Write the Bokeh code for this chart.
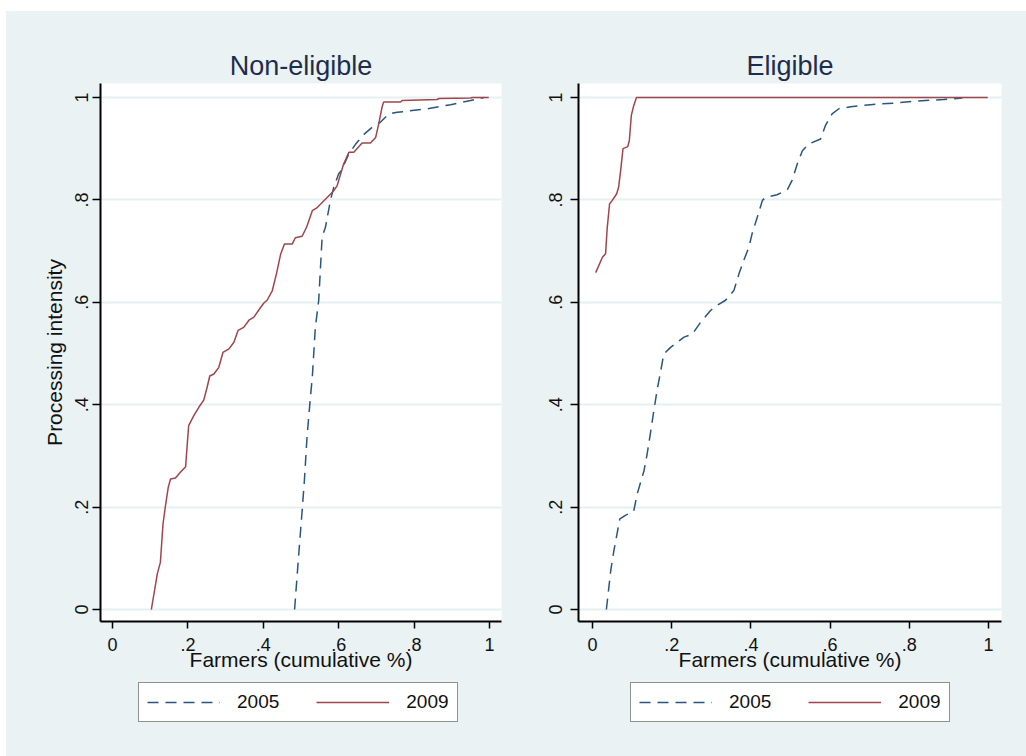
from bokeh.plotting import figure
from bokeh.layouts import row, column
from bokeh.models import FixedTicker, Legend, LegendItem, Range1d
from bokeh.embed import file_html
from bokeh.resources import INLINE

# ---------------- data ----------------
panel_titles = ["Non-eligible", "Eligible"]
series_names = ["2005", "2009"]
x_title = "Farmers (cumulative %)"
y_title = "Processing intensity"
ticks = [0, 0.2, 0.4, 0.6, 0.8, 1]
tick_labels = ["0", ".2", ".4", ".6", ".8", "1"]

# Non-eligible, 2005
ne05_x = [0.483, 0.494, 0.503, 0.509, 0.516, 0.525, 0.530, 0.538, 0.547, 0.556,
          0.565, 0.578, 0.587, 0.600, 0.607, 0.627, 0.645, 0.667, 0.689, 0.711,
          0.733, 0.755, 0.835, 0.897, 0.950, 0.985]
ne05_y = [0.0, 0.108, 0.193, 0.252, 0.337, 0.415, 0.454, 0.551, 0.604, 0.727,
          0.747, 0.799, 0.825, 0.851, 0.857, 0.890, 0.909, 0.928, 0.942, 0.952,
          0.968, 0.971, 0.978, 0.986, 0.994, 1.0]

# Non-eligible, 2009
ne09_x = [0.103, 0.119, 0.127, 0.134, 0.140, 0.148, 0.154, 0.167, 0.180, 0.194,
          0.196, 0.202, 0.216, 0.229, 0.242, 0.251, 0.258, 0.269, 0.282, 0.293,
          0.309, 0.322, 0.333, 0.348, 0.362, 0.375, 0.388, 0.401, 0.410, 0.424,
          0.435, 0.446, 0.456, 0.477, 0.485, 0.503, 0.515, 0.530, 0.543, 0.587,
          0.596, 0.613, 0.627, 0.640, 0.662, 0.684, 0.698, 0.706, 0.715, 0.719,
          0.764, 0.768, 0.861, 0.866, 0.950, 0.954, 0.998]
ne09_y = [0.0, 0.070, 0.092, 0.167, 0.200, 0.239, 0.255, 0.257, 0.268, 0.279,
          0.300, 0.359, 0.379, 0.395, 0.409, 0.434, 0.456, 0.460, 0.473, 0.502,
          0.509, 0.522, 0.545, 0.551, 0.565, 0.571, 0.585, 0.598, 0.604, 0.623,
          0.656, 0.694, 0.714, 0.714, 0.726, 0.729, 0.747, 0.779, 0.785, 0.818,
          0.828, 0.870, 0.893, 0.893, 0.911, 0.911, 0.922, 0.948, 0.981, 0.991,
          0.991, 0.994, 0.996, 0.998, 0.999, 1.0, 1.0]

# Eligible, 2005
el05_x = [0.035, 0.046, 0.054, 0.062, 0.069, 0.083, 0.104, 0.113, 0.130, 0.138,
          0.146, 0.155, 0.163, 0.172, 0.180, 0.197, 0.231, 0.252, 0.273, 0.298,
          0.315, 0.336, 0.357, 0.370, 0.382, 0.395, 0.403, 0.416, 0.429, 0.437,
          0.466, 0.492, 0.504, 0.517, 0.530, 0.546, 0.576, 0.588, 0.605, 0.622,
          0.652, 0.702, 0.761, 0.820, 0.887, 0.934]
el05_y = [0.0, 0.076, 0.115, 0.148, 0.177, 0.184, 0.192, 0.226, 0.271, 0.304,
          0.343, 0.389, 0.428, 0.465, 0.499, 0.512, 0.532, 0.538, 0.561, 0.584,
          0.594, 0.604, 0.623, 0.656, 0.682, 0.708, 0.734, 0.766, 0.799, 0.805,
          0.810, 0.820, 0.838, 0.870, 0.896, 0.909, 0.919, 0.945, 0.968, 0.978,
          0.982, 0.986, 0.989, 0.993, 0.996, 0.999]

# Eligible, 2009
el09_x = [0.008, 0.025, 0.033, 0.037, 0.043, 0.050, 0.061, 0.066, 0.071, 0.077,
          0.089, 0.093, 0.098, 0.104, 0.111, 0.998]
el09_y = [0.658, 0.688, 0.695, 0.744, 0.792, 0.799, 0.812, 0.825, 0.857, 0.900,
          0.904, 0.916, 0.965, 0.984, 1.0, 1.0]

# ---------------- styling ----------------
BG = "#EAF2F3"
GRID = "#E6EFF1"
C05 = "#28567F"
C09 = "#A0454D"
FONT = "Liberation Sans"
TEXT = "#111111"
TITLE_C = "#1E2D4E"
DASH = "11 7"

PLOT_H = 669
LEG_H = 76
Y_RANGE = (-0.0234, 1.0273)
NAN = float("nan")


def make_plot(title, x05, y05, x09, y09, width, b_left, b_right, x_range,
              show_ytitle, ylab_standoff):
    p = figure(width=width, height=PLOT_H, output_backend="svg", toolbar_location=None,
               x_range=Range1d(*x_range), y_range=Range1d(*Y_RANGE),
               min_border_left=b_left, min_border_right=b_right,
               min_border_top=72, min_border_bottom=59,
               background_fill_color="white", border_fill_color=BG,
               outline_line_color=None, title=title,
               styles={"background-color": BG})
    p.title.align = "center"
    p.title.text_font = FONT
    p.title.text_font_size = "27px"
    p.title.text_font_style = "normal"
    p.title.text_color = TITLE_C
    p.title.standoff = 6

    p.line(x05, y05, line_color=C05, line_width=1.5, line_dash=DASH)
    p.line(x09, y09, line_color=C09, line_width=1.5)

    p.xgrid.visible = False
    p.ygrid.ticker = FixedTicker(ticks=ticks)
    p.ygrid.grid_line_color = GRID
    p.ygrid.grid_line_width = 2

    overrides = {t: lab for t, lab in zip(ticks, tick_labels)}
    for ax in (p.xaxis[0], p.yaxis[0]):
        ax.ticker = FixedTicker(ticks=ticks)
        ax.major_label_overrides = overrides
        ax.minor_tick_line_color = None
        ax.major_tick_in = 0
        ax.major_tick_out = 7
        ax.major_tick_line_color = "black"
        ax.major_tick_line_width = 1.5
        ax.axis_line_color = "black"
        ax.axis_line_width = 2
        ax.major_label_text_font = FONT
        ax.major_label_text_font_size = "18px"
        ax.major_label_text_color = TEXT
        ax.axis_label_text_font = FONT
        ax.axis_label_text_font_size = "21px"
        ax.axis_label_text_font_style = "normal"
        ax.axis_label_text_color = TEXT

    p.xaxis[0].major_label_standoff = 9
    p.xaxis[0].axis_label = x_title
    p.xaxis[0].axis_label_standoff = -6

    p.yaxis[0].major_tick_out = 8
    p.yaxis[0].major_label_orientation = "parallel"
    p.yaxis[0].major_label_standoff = ylab_standoff
    if show_ytitle:
        p.yaxis[0].axis_label = y_title
        p.yaxis[0].axis_label_standoff = 7
    return p


def make_legend(width, legend_xy):
    # a strip under each panel holding only the legend box
    q = figure(width=width, height=LEG_H, output_backend="svg", toolbar_location=None,
               x_range=Range1d(0, 1), y_range=Range1d(0, 1),
               x_axis_type=None, y_axis_type=None,
               min_border=0, background_fill_color=BG, border_fill_color=BG,
               outline_line_color=None, styles={"background-color": BG})
    q.grid.visible = False
    # proxy renderers (no visible marks) that only supply the legend styles
    r05 = q.line([NAN], [NAN], line_color=C05, line_width=1.5, line_dash=DASH)
    r09 = q.line([NAN], [NAN], line_color=C09, line_width=1.5)
    legend = Legend(items=[LegendItem(label=series_names[0], renderers=[r05]),
                           LegendItem(label=series_names[1], renderers=[r09])],
                    orientation="horizontal", location=legend_xy,
                    glyph_width=73, glyph_height=20, label_standoff=17,
                    spacing=37, padding=8, margin=0,
                    label_text_font=FONT, label_text_font_size="19px",
                    label_text_color=TEXT,
                    border_line_color="#222222", border_line_width=1.5,
                    background_fill_color="white", background_fill_alpha=1.0)
    q.add_layout(legend, "center")
    return q


left = make_plot(panel_titles[0], ne05_x, ne05_y, ne09_x, ne09_y,
                 width=504, b_left=94, b_right=9,
                 x_range=(-0.0318, 1.0318), show_ytitle=True, ylab_standoff=4)
right = make_plot(panel_titles[1], el05_x, el05_y, el09_x, el09_y,
                  width=516, b_left=68, b_right=25,
                  x_range=(-0.0354, 1.0328), show_ytitle=False, ylab_standoff=8)
# legend strips' frames line up with the plot frames above them
left_leg = make_legend(504, (38, 34))
right_leg = make_legend(516, (52, 34))

layout = row(column(left, left_leg, styles={"background-color": BG}),
             column(right, right_leg, styles={"background-color": BG}),
             margin=(11, 0, 0, 6), styles={"background-color": BG})
open("out.html", "w").write(file_html(layout, INLINE))
